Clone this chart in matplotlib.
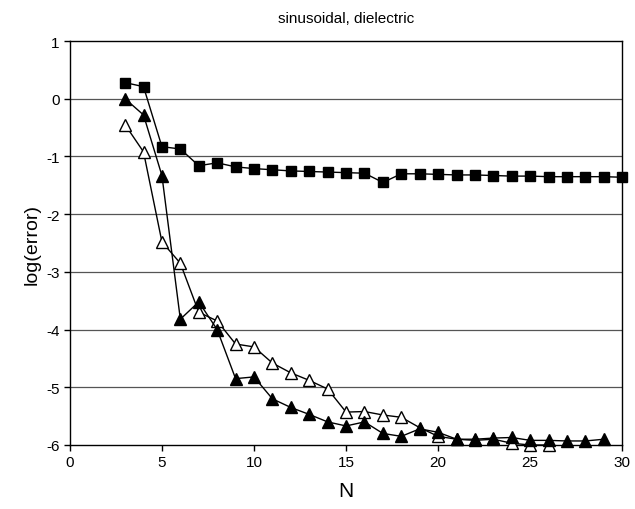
import matplotlib
matplotlib.use("Agg")
import matplotlib.pyplot as plt

# Data
n_sq = list(range(3, 31))
sq = [0.28, 0.21, -0.83, -0.87, -1.16, -1.11, -1.18, -1.21, -1.23, -1.25,
      -1.26, -1.27, -1.28, -1.29, -1.45, -1.30, -1.30, -1.31, -1.32, -1.32,
      -1.33, -1.34, -1.34, -1.35, -1.35, -1.35, -1.35, -1.36]

n_tri = list(range(3, 30))
tri_filled = [0.0, -0.28, -1.33, -3.82, -3.52, -4.0, -4.85, -4.82, -5.2, -5.35,
              -5.47, -5.6, -5.67, -5.6, -5.8, -5.85, -5.72, -5.78, -5.9, -5.9,
              -5.88, -5.87, -5.92, -5.92, -5.93, -5.93, -5.9]

n_open = list(range(3, 27))
tri_open = [-0.45, -0.92, -2.48, -2.85, -3.7, -3.85, -4.25, -4.3, -4.58, -4.75,
            -4.88, -5.03, -5.43, -5.42, -5.48, -5.52, -5.7, -5.85, -5.9, -5.92,
            -5.9, -5.97, -6.0, -6.0]

plt.rcParams["font.family"] = ["Liberation Sans", "DejaVu Sans"]
plt.rcParams["axes.unicode_minus"] = False

fig = plt.figure(figsize=(6.35, 5.1), dpi=100)
ax = fig.add_axes([0.110, 0.1255, 0.870, 0.792])

for y in range(-5, 1):
    ax.axhline(y, color="#555555", linewidth=0.9, zorder=0)

ax.plot(n_open, tri_open, color="black", linewidth=1.0, marker="^",
        markersize=8, markerfacecolor="white", markeredgecolor="black",
        markeredgewidth=1.0, clip_on=False, zorder=3)
ax.plot(n_tri, tri_filled, color="black", linewidth=1.0, marker="^",
        markersize=8, markerfacecolor="black", clip_on=False, zorder=4)
ax.plot(n_sq, sq, color="black", linewidth=1.0, marker="s",
        markersize=7, markerfacecolor="black", clip_on=False, zorder=5)

ax.set_xlim(0, 30)
ax.set_ylim(-6, 1)
ax.set_xticks(range(0, 31, 5))
ax.set_yticks(range(-6, 2))
ax.tick_params(direction="out", length=4, labelsize=11, width=1)
for s in ax.spines.values():
    s.set_linewidth(1.0)

ax.set_xlabel("N", fontsize=15, labelpad=8)
ax.set_ylabel("log(error)", fontsize=14)
ax.set_title("sinusoidal, dielectric", fontsize=11, pad=14)

fig.savefig("out.png", dpi=100)
